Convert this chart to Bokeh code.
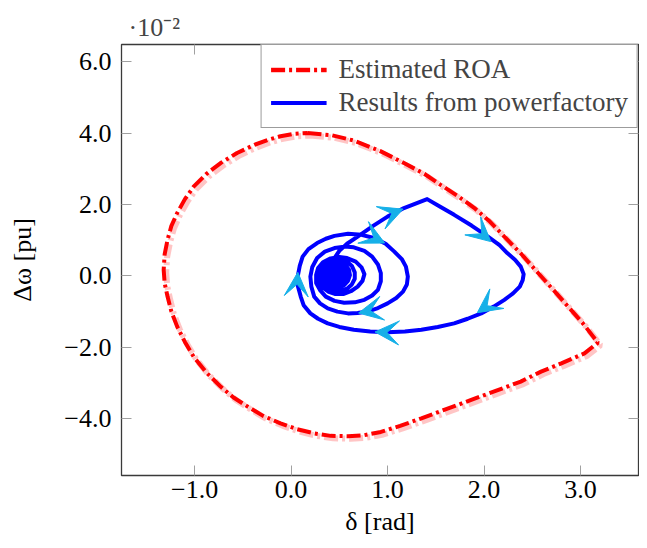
from bokeh.plotting import figure
from bokeh.models import (Range1d, FixedTicker, LinearAxis, Legend, LegendItem, Arrow,
                          VeeHead, ColumnDataSource, CustomJSTickFormatter)
from bokeh.embed import file_html
from bokeh.resources import INLINE
import numpy as np

# ---------------- data (delta in rad, delta-omega in units of 1e-2 pu) ----------------
roa_delta = [0.17, 0.42, 0.65, 0.92, 1.17, 1.38, 1.55, 1.73, 1.90, 2.06, 2.21, 2.39, 2.56,
             2.72, 2.87, 3.03, 3.18, 3.04, 2.80, 2.59, 2.38, 2.12, 1.86, 1.60, 1.35, 1.13,
             0.93, 0.76, 0.59, 0.41, 0.24, 0.06, -0.11, -0.29, -0.45, -0.60, -0.73, -0.88,
             -1.01, -1.10, -1.18, -1.24, -1.28, -1.31, -1.32, -1.31, -1.28, -1.24, -1.18,
             -1.10, -1.01, -0.88, -0.73, -0.56, -0.38, -0.24, -0.11, 0.03, 0.17]
roa_domega = [4.00, 3.94, 3.79, 3.50, 3.16, 2.86, 2.55, 2.23, 1.90, 1.52, 1.10, 0.60, 0.08,
              -0.40, -0.86, -1.35, -1.87, -2.17, -2.45, -2.68, -2.96, -3.22, -3.48, -3.74,
              -3.99, -4.20, -4.37, -4.46, -4.49, -4.48, -4.41, -4.29, -4.13, -3.92, -3.66,
              -3.40, -3.10, -2.70, -2.26, -1.85, -1.42, -1.00, -0.58, -0.20, 0.17, 0.60,
              1.01, 1.40, 1.76, 2.15, 2.50, 2.85, 3.16, 3.44, 3.67, 3.81, 3.91, 3.98, 4.00]

traj_delta = [
    # fault-on
    0.43, 0.43, 0.45, 0.50, 0.58, 0.69, 0.85, 1.00, 1.17, 1.41,
    # post-fault, first swing
    1.55, 1.69, 1.87, 2.04, 2.16, 2.24, 2.32, 2.38, 2.41, 2.40, 2.37, 2.30, 2.21,
    2.10, 1.97, 1.83, 1.69, 1.52, 1.35, 1.18, 1.00, 0.82, 0.65, 0.50, 0.38, 0.28,
    0.20, 0.13, 0.10, 0.07, 0.07, 0.09, 0.12, 0.18, 0.27, 0.36, 0.45, 0.59, 0.73,
    0.86, 0.98, 1.07, 1.15, 1.19, 1.21, 1.20, 1.16, 1.09, 1.00, 0.90, 0.79, 0.69,
    0.59, 0.48, 0.38, 0.30, 0.24, 0.21, 0.20, 0.22, 0.27, 0.35, 0.45, 0.55, 0.65,
    0.76, 0.84, 0.90, 0.93, 0.93, 0.90, 0.84, 0.76, 0.66, 0.55, 0.45, 0.36, 0.30,
    0.26, 0.26, 0.28, 0.33, 0.41, 0.50, 0.58, 0.67, 0.73, 0.76, 0.74, 0.69, 0.62,
    0.54, 0.46, 0.39, 0.33, 0.30,
    # inner loops
    0.29, 0.31, 0.36, 0.43, 0.51, 0.58, 0.63, 0.66, 0.66, 0.63, 0.58, 0.51, 0.44, 0.37, 0.33,
    0.31, 0.32, 0.37, 0.44, 0.51, 0.57, 0.60, 0.61, 0.59, 0.55, 0.49, 0.42, 0.37, 0.34,
    0.34, 0.36, 0.41, 0.47, 0.53, 0.57, 0.58, 0.56, 0.52, 0.46, 0.41, 0.37,
    0.36, 0.38, 0.43, 0.48, 0.52, 0.55, 0.54, 0.51, 0.46, 0.41, 0.39,
    0.39, 0.42, 0.47, 0.51, 0.52, 0.50, 0.46, 0.42, 0.41,
    0.43, 0.47, 0.49, 0.48, 0.45, 0.43, 0.45, 0.46]
traj_domega = [
    0.00, 0.25, 0.50, 0.70, 0.90, 1.10, 1.40, 1.66, 1.90, 2.15,
    1.93, 1.71, 1.41, 1.10, 0.86, 0.64, 0.45, 0.26, 0.05, -0.12, -0.30, -0.49,
    -0.67, -0.86, -1.05, -1.20, -1.33, -1.43, -1.51, -1.56, -1.58, -1.56, -1.51,
    -1.43, -1.33, -1.20, -1.05, -0.82, -0.58, -0.28, 0.00, 0.28, 0.54, 0.75, 0.92,
    1.04, 1.12, 1.18, 1.15, 1.06, 0.90, 0.68, 0.46, 0.26, -0.02, -0.24, -0.44,
    -0.62, -0.77, -0.90, -1.00, -1.04, -1.05, -1.00, -0.91, -0.77, -0.58, -0.30,
    -0.02, 0.25, 0.50, 0.68, 0.78, 0.82, 0.80, 0.70, 0.54, 0.32, 0.08, -0.15,
    -0.39, -0.55, -0.67, -0.74, -0.75, -0.70, -0.58, -0.40, -0.20, 0.03, 0.22,
    0.38, 0.49, 0.53, 0.50, 0.40, 0.24, 0.05, -0.14, -0.30, -0.43,
    -0.51, -0.51, -0.45, -0.33, -0.17,
    0.02, 0.20, 0.35, 0.43, 0.45, 0.40, 0.28, 0.10, -0.08, -0.24, -0.36, -0.42, -0.41, -0.33, -0.20,
    -0.03, 0.15, 0.28, 0.35, 0.35, 0.29, 0.17, 0.02, -0.14, -0.26, -0.33, -0.32, -0.24, -0.12,
    0.02, 0.15, 0.25, 0.28, 0.25, 0.15, 0.02, -0.11, -0.21, -0.25, -0.21, -0.12,
    0.00, 0.11, 0.19, 0.20, 0.15, 0.06, -0.06, -0.14, -0.17, -0.14, -0.06,
    0.04, 0.12, 0.13, 0.08, 0.00, -0.08, -0.11, -0.08, 0.00,
    0.06, 0.07, 0.02, -0.04, -0.05, -0.01, 0.02, 0.00]

# direction arrows along the trajectory: tail -> tip
arrow_x0 = [0.96, 1.93, 2.09, 1.05, 0.06, 0.82, 0.90]
arrow_y0 = [1.66, 1.29, -0.72, -1.59, -0.32, 1.12, -0.93]
arrow_x1 = [1.16, 2.07, 1.93, 0.87, 0.07, 0.97, 0.70]
arrow_y1 = [1.87, 0.96, -1.03, -1.57, 0.10, 0.92, -1.04]

x_ticks = [-1, 0, 1, 2, 3]
y_ticks = [-4, -2, 0, 2, 4, 6]
x_lim = (-1.757, 3.60)
y_lim = (-5.59, 6.48)

FONT = "Liberation Serif"
FS = "26px"

p = figure(width=639, height=546, output_backend="svg", toolbar_location=None,
           x_range=Range1d(*x_lim), y_range=Range1d(*y_lim),
           min_border_left=121, min_border_right=1, min_border_top=44, min_border_bottom=71)
p.grid.visible = False
p.outline_line_color = "#3a3a3a"
p.outline_line_width = 1.3
p.background_fill_color = "white"
p.border_fill_color = "white"

fmt = CustomJSTickFormatter(code="""
const s = Math.abs(tick).toFixed(1);
return (tick < -1e-9 ? "\u2212" : "") + s;
""")
blank_fmt = CustomJSTickFormatter(code="return '';")

def style_axis(ax, ticks, show_labels=True):
    ax.ticker = FixedTicker(ticks=ticks)
    ax.major_tick_in = 10
    ax.major_tick_out = 0
    ax.minor_tick_line_color = None
    ax.major_tick_line_color = "#a0a0a0"
    ax.major_tick_line_width = 1
    ax.axis_line_color = None
    if show_labels:
        ax.formatter = fmt
        ax.major_label_text_font = FONT
        ax.major_label_text_font_size = FS
        ax.major_label_text_color = "black"
        ax.axis_label_text_font = FONT
        ax.axis_label_text_font_size = FS
        ax.axis_label_text_font_style = "normal"
        ax.axis_label_text_color = "black"
    else:
        ax.formatter = blank_fmt
        ax.major_label_standoff = 0

style_axis(p.xaxis[0], x_ticks)
style_axis(p.yaxis[0], y_ticks)
p.xaxis[0].axis_label = "δ [rad]"
p.yaxis[0].axis_label = "Δω [pu]"
p.xaxis[0].major_label_standoff = 5
p.xaxis[0].axis_label_standoff = 6
p.yaxis[0].major_label_standoff = 10
p.yaxis[0].axis_label_standoff = 24

top_ax = LinearAxis()
right_ax = LinearAxis()
style_axis(top_ax, x_ticks, show_labels=False)
style_axis(right_ax, y_ticks, show_labels=False)
p.add_layout(top_ax, "above")
p.add_layout(right_ax, "right")

p.title.text = "·10⁻²"
p.title.align = "left"
p.title.offset = 7
p.title.text_font = FONT
p.title.text_font_size = FS
p.title.text_font_style = "normal"
p.title.standoff = 6

# shadow offset of ~2.5px converted to data units
fw, fh = 517.0, 431.0
dx = 2.5 * (x_lim[1] - x_lim[0]) / fw
dy = -2.5 * (y_lim[1] - y_lim[0]) / fh
dash = "14 4 3 4"
shadow = p.line(np.array(roa_delta) + dx, np.array(roa_domega) + dy, line_color="#ff8c8c",
                line_alpha=0.5, line_width=6, line_dash=dash)
roa = p.line(roa_delta, roa_domega, line_color="#ff0000", line_width=4, line_dash=dash)

traj = p.line(traj_delta, traj_domega, line_color="#0000ff", line_width=4,
              line_join="round")

asrc = ColumnDataSource(dict(x0=arrow_x0, y0=arrow_y0, x1=arrow_x1, y1=arrow_y1))
p.add_layout(Arrow(x_start="x0", y_start="y0", x_end="x1", y_end="y1", source=asrc,
                   line_alpha=0, line_width=0,
                   end=VeeHead(size=24, fill_color="#16b0e8", line_color="#16b0e8",
                               line_width=1)))

legend = Legend(items=[LegendItem(label="Estimated ROA", renderers=[shadow, roa]),
                       LegendItem(label="Results from powerfactory", renderers=[traj])],
                location="top_right", margin=0, padding=9, spacing=2,
                label_text_font=FONT, label_text_font_size="27px", label_standoff=12,
                glyph_width=56, glyph_height=29, label_height=29,
                border_line_color="#3a3a3a", border_line_width=1.2,
                background_fill_alpha=1.0)
p.add_layout(legend, "center")

open("out.html", "w").write(file_html(p, INLINE))
